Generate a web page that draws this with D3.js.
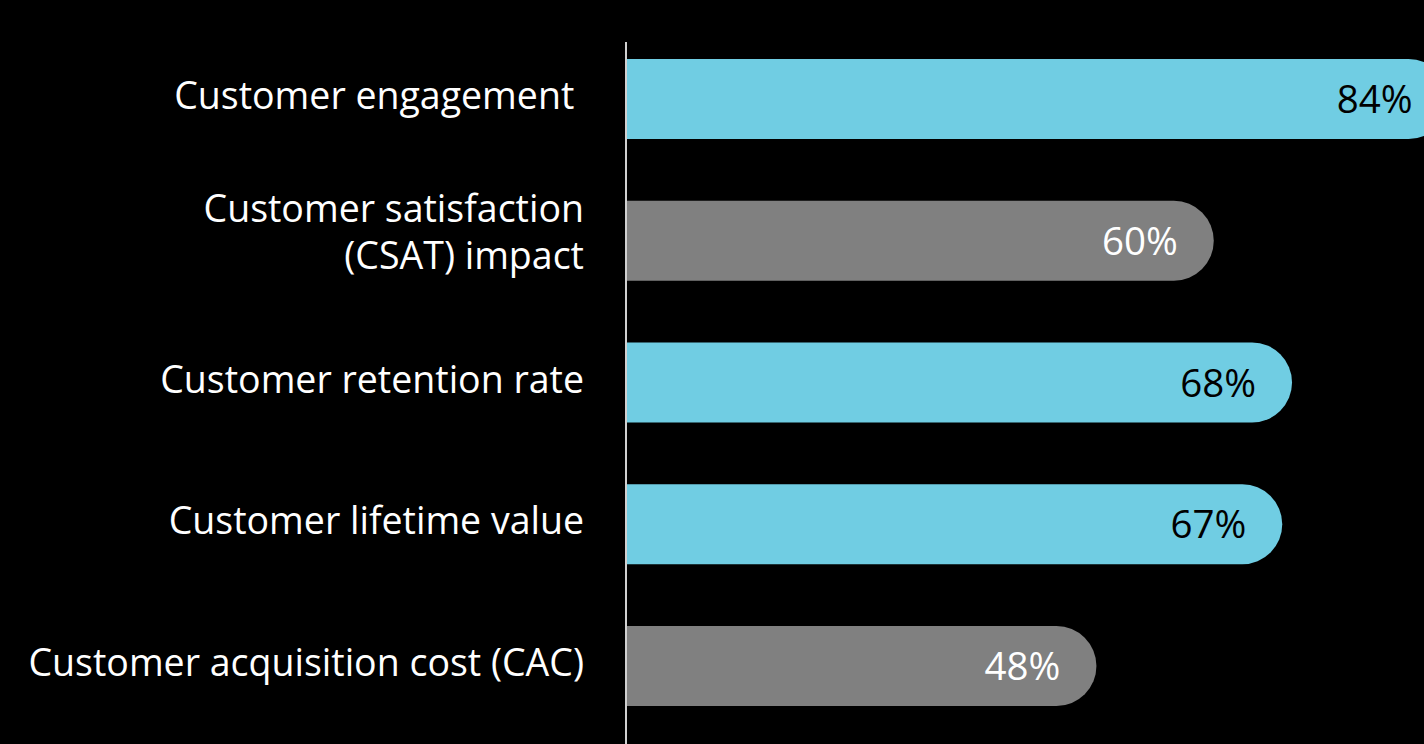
<!DOCTYPE html>
<html>
<head>
<meta charset="utf-8">
<script src="https://cdn.jsdelivr.net/npm/d3@7"></script>
<style>
  html, body { margin: 0; padding: 0; background: #000; overflow: hidden; }
  svg { display: block; font-family: "Open Sans", sans-serif; }
</style>
</head>
<body>
<div id="chart"></div>
<script>
// Data
const categories = [
  ["Customer engagement "],
  ["Customer satisfaction", "(CSAT) impact"],
  ["Customer retention rate"],
  ["Customer lifetime value"],
  ["Customer acquisition cost (CAC)"]
];
const values = [84, 60, 68, 67, 48];
const highlight = [true, false, true, true, false];

const [w, h] = [1424, 744];
const [cyanColor, grayColor, axisColor] = ["#70cde3", "#808080", "#d0d0d0"];

const svg = d3.select("#chart")
  .append("svg")
  .attr("width", w)
  .attr("height", h);

svg.append("rect")
  .attr("width", w)
  .attr("height", h)
  .attr("fill", "#000");

// Scales
const xScale = d3.scaleLinear()
  .domain([0, 100])
  .range([627, 627 + 978]);

const yScale = d3.scaleBand()
  .domain(d3.range(values.length))
  .range([59, 706])
  .paddingInner(0.436)
  .paddingOuter(0);

const bh = yScale.bandwidth();
const r = bh / 2;

// Bars with a fully rounded right end
svg.selectAll("path.bar")
  .data(values)
  .enter()
  .append("path")
  .attr("class", "bar")
  .attr("d", (d, i) => {
    const x0 = xScale(0), x1 = xScale(d), y0 = yScale(i);
    return `M${x0},${y0} H${x1 - r} A${r},${r} 0 0 1 ${x1 - r},${y0 + bh} H${x0} Z`;
  })
  .attr("fill", (d, i) => highlight[i] ? cyanColor : grayColor);

// Value labels
svg.selectAll("text.value")
  .data(values)
  .enter()
  .append("text")
  .attr("class", "value")
  .attr("x", d => xScale(d) - 36)
  .attr("y", (d, i) => yScale(i) + bh / 2 + 14)
  .attr("text-anchor", "end")
  .attr("fill", (d, i) => highlight[i] ? "#000" : "#fff")
  .style("font-size", "38.5px")
  .text(d => `${d}%`);

// Category labels
const labels = svg.selectAll("text.cat")
  .data(categories)
  .enter()
  .append("text")
  .attr("class", "cat")
  .attr("x", 584)
  .attr("y", (d, i) => yScale(i) + bh / 2 + 10)
  .attr("text-anchor", "end")
  .attr("fill", "#fff")
  .style("font-size", "37.5px")
  .style("white-space", "pre");

labels.selectAll("tspan")
  .data(d => d.map((t, j) => ({ t, j, n: d.length })))
  .enter()
  .append("tspan")
  .attr("x", 584)
  .attr("dy", d => d.n === 1 ? 0 : (d.j === 0 ? -29 : 47))
  .text(d => d.t);

// Vertical axis line
svg.append("line")
  .attr("x1", 626)
  .attr("x2", 626)
  .attr("y1", 42)
  .attr("y2", h)
  .attr("stroke", axisColor)
  .attr("stroke-width", 2);
</script>
</body>
</html>
